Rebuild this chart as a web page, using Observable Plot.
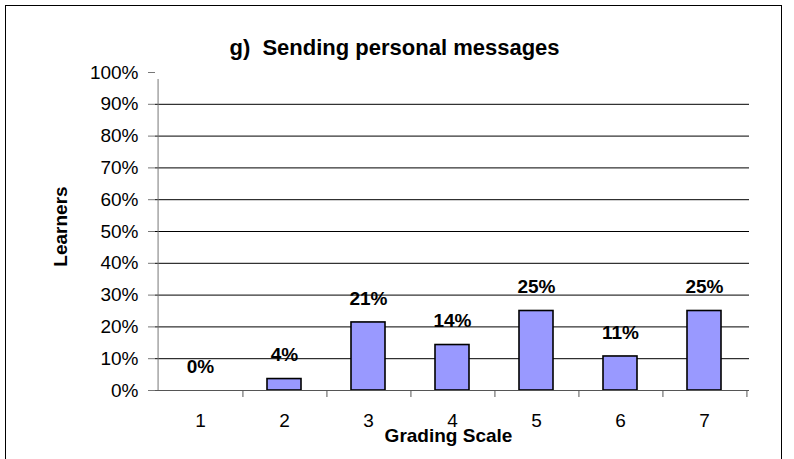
<!DOCTYPE html>
<html>
<head>
<meta charset="utf-8">
<script src="https://cdn.jsdelivr.net/npm/d3@7"></script>
<script src="https://cdn.jsdelivr.net/npm/@observablehq/plot@0.6"></script>
<style>
  html, body { margin: 0; padding: 0; background: #fff; overflow: hidden; }
  #wrap { position: relative; width: 794px; height: 459px; overflow: hidden; }
  #border { position: absolute; left: 5px; top: 5px; width: 777px; height: 480px; border: 1.6px solid #000; box-sizing: border-box; pointer-events: none; }
  svg { font-family: "Liberation Sans", Arial, sans-serif; }
</style>
</head>
<body>
<div id="wrap"><div id="border"></div></div>
<script>
const title = "g)  Sending personal messages";
const xTitle = "Grading Scale";
const yTitle = "Learners";
const categories = ["1", "2", "3", "4", "5", "6", "7"];
const values = [0, 3.6, 21.4, 14.3, 25.0, 10.7, 25.0];
const yTicks = [0, 10, 20, 30, 40, 50, 60, 70, 80, 90, 100];
const gridTicks = [10, 20, 30, 40, 50, 60, 70, 80, 90];

const data = categories.map((c, i) => ({cat: c, value: values[i]}));

const W = 794, H = 459;
const mL = 155, mR = 45, mT = 72, mB = 69;
const step = (W - mL - mR) / categories.length;
const font = "Liberation Sans, Arial, sans-serif";

const chart = Plot.plot({
  width: W,
  height: H,
  marginLeft: mL,
  marginRight: mR,
  marginTop: mT,
  marginBottom: mB,
  style: {fontFamily: font, background: "transparent", overflow: "visible"},
  x: {domain: categories, paddingInner: 0.6, paddingOuter: 0.3},
  y: {domain: [0, 100]},
  marks: [
    Plot.gridY(gridTicks, {stroke: "#000", strokeOpacity: 1, strokeWidth: 1}),
    Plot.barY(data, {x: "cat", y: "value", fill: "#9999ff", stroke: "#000", strokeWidth: 1.6}),
    Plot.ruleY([0], {stroke: "#555", strokeWidth: 1}),
    Plot.ruleX([categories[0]], {dx: -step / 2, y1: 0, y2: 100, insetBottom: -7, stroke: "#777", strokeWidth: 1}),
    Plot.axisY({ticks: yTicks, tickFormat: d => d + "%", tickSize: 7, tickPadding: 10, fontSize: 19, stroke: "#777", fill: "#000", label: null}),
    Plot.axisX({tickSize: 7, tickFormat: () => "", dx: step / 2, stroke: "#555", label: null}),
    Plot.axisX({tickSize: 0, tickPadding: 23, fontSize: 19, fill: "#000", label: null}),
    Plot.text(data, {x: "cat", y: "value", text: d => Math.round(d.value) + "%", dy: -24, fontSize: 19, fontWeight: "bold", fill: "#000"}),
    Plot.text([title], {frameAnchor: "top", textAnchor: "middle", lineAnchor: "middle", dx: -58, dy: -25, fontSize: 22, fontWeight: "bold", fill: "#000"}),
    Plot.text([xTitle], {frameAnchor: "bottom", textAnchor: "middle", lineAnchor: "middle", dx: -4, dy: 45, fontSize: 19, fontWeight: "bold", fill: "#000"}),
    Plot.text([yTitle], {frameAnchor: "left", textAnchor: "middle", lineAnchor: "middle", dx: -95, dy: -5, rotate: -90, fontSize: 19, fontWeight: "bold", fill: "#000"})
  ]
});
document.getElementById("wrap").prepend(chart);
</script>
</body>
</html>
